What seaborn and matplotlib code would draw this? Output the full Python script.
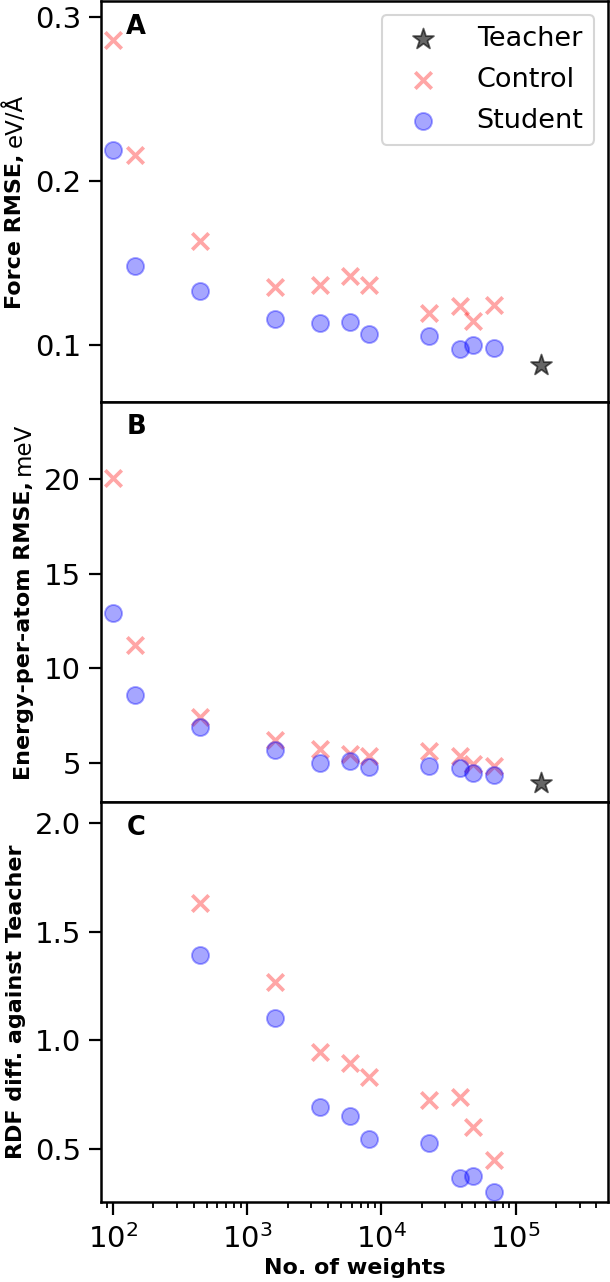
import numpy as np
import matplotlib
matplotlib.use("Agg")
import matplotlib.pyplot as plt
import seaborn as sns
from matplotlib.transforms import IdentityTransform

nan = np.nan

# ---------------- data ----------------
n_weights = [100, 145, 446, 1607, 3459, 5865, 8128, 22750, 38450, 48300, 68900]
teacher_weights = [154200]

force_control = [0.286, 0.216, 0.163, 0.135, 0.1365, 0.142, 0.1365, 0.1194, 0.1235, 0.1143, 0.1245]
force_student = [0.219, 0.148, 0.133, 0.1157, 0.1135, 0.1139, 0.1065, 0.1051, 0.0976, 0.1000, 0.0979]
force_teacher = [0.0878]

energy_control = [20.08, 11.24, 7.43, 6.2, 5.72, 5.49, 5.35, 5.62, 5.37, 4.96, 4.82]
energy_student = [12.93, 8.56, 6.9, 5.67, 5.0, 5.1, 4.79, 4.82, 4.7, 4.44, 4.35]
energy_teacher = [3.94]

rdf_control = [nan, nan, 1.634, 1.267, 0.945, 0.894, 0.83, 0.725, 0.736, 0.602, 0.448]
rdf_student = [nan, nan, 1.392, 1.102, 0.694, 0.652, 0.543, 0.528, 0.363, 0.374, 0.301]

series_labels = ["Teacher", "Control", "Student"]
panel_letters = ["A", "B", "C"]
ylabel_bold = ["Force RMSE,", "Energy-per-atom RMSE,", "RDF diff. against Teacher"]
ylabel_unit = ["eV/Å", "meV", ""]
xlabel = "No. of weights"
yticks = [[0.1, 0.2, 0.3], [5, 10, 15, 20], [0.5, 1.0, 1.5, 2.0]]
ylims = [(0.0653, 0.3096), (2.94, 24.1), (0.254, 2.10)]
xlim = (81.4, 4.88e5)

# ---------------- figure ----------------
fig, axes = plt.subplots(3, 1, figsize=(6.10, 12.82), dpi=100, sharex=True)
fig.subplots_adjust(left=0.1656, right=0.9967, top=0.9990, bottom=0.0624, hspace=0)

panels = [
    (force_teacher, force_control, force_student),
    (energy_teacher, energy_control, energy_student),
    (None, rdf_control, rdf_student),
]

for i, (ax, (t, c, s)) in enumerate(zip(axes, panels)):
    if t is not None:
        sns.scatterplot(x=teacher_weights, y=t, ax=ax, marker="*", s=250,
                        color="black", alpha=0.6, edgecolor="black", linewidth=1.3,
                        label=series_labels[0] if i == 0 else None)
    sns.scatterplot(x=n_weights, y=c, ax=ax, marker="x", s=140,
                    color="red", alpha=0.35, linewidth=2.7,
                    label=series_labels[1] if i == 0 else None)
    sns.scatterplot(x=n_weights, y=s, ax=ax, marker="o", s=150,
                    color="blue", alpha=0.35, edgecolor="blue", linewidth=1.4,
                    label=series_labels[2] if i == 0 else None)
    ax.set_xscale("log")
    ax.set_xlim(*xlim)
    ax.set_ylim(*ylims[i])
    ax.set_yticks(yticks[i])
    ax.set_ylabel("")
    ax.set_xlabel("")
    for sp in ax.spines.values():
        sp.set_linewidth(1.8)
    ax.tick_params(axis="both", which="major", labelsize=21, length=9, width=1.6)
    ax.tick_params(axis="y", which="major", pad=5.5)
    ax.tick_params(axis="x", which="major", pad=7)
    ax.tick_params(axis="x", which="minor", length=4.5, width=1.3)
    if i < 2:
        ax.tick_params(axis="x", which="both", bottom=False, labelbottom=False)
        if ax.get_legend() is not None and i > 0:
            ax.get_legend().remove()
    ax.text(0.05, 0.968, panel_letters[i], transform=ax.transAxes,
            fontsize=18.5, fontweight="bold", ha="left", va="top")

leg = axes[0].legend(loc="upper right", fontsize=19.5, handlelength=2.2,
                     handletextpad=0.9, borderpad=0.4, labelspacing=0.56)
leg.get_frame().set_linewidth(1.5)

axes[2].set_xlabel(xlabel, fontsize=16, fontweight="bold", labelpad=2.5)

# two-part y labels (bold + regular units)
renderer = fig.canvas.get_renderer()
baseline_x = [21.5, 30.0, 21.7]
for i, ax in enumerate(axes):
    bb = ax.get_window_extent(renderer)
    cy = 0.5 * (bb.y0 + bb.y1)
    t1 = fig.text(0, 0, ylabel_bold[i], rotation=90, rotation_mode="anchor",
                  ha="left", va="baseline", fontsize=16, fontweight="bold",
                  transform=IdentityTransform())
    L1 = t1.get_window_extent(renderer).height
    L2 = 0.0
    gap = 0.0
    t2 = None
    if ylabel_unit[i]:
        t2 = fig.text(0, 0, ylabel_unit[i], rotation=90, rotation_mode="anchor",
                      ha="left", va="baseline", fontsize=16.5,
                      transform=IdentityTransform())
        L2 = t2.get_window_extent(renderer).height
        gap = 6.0
    y0 = cy - (L1 + gap + L2) / 2
    t1.set_position((baseline_x[i], y0))
    if t2 is not None:
        t2.set_position((baseline_x[i], y0 + L1 + gap))

fig.savefig("out.png", dpi=100)
